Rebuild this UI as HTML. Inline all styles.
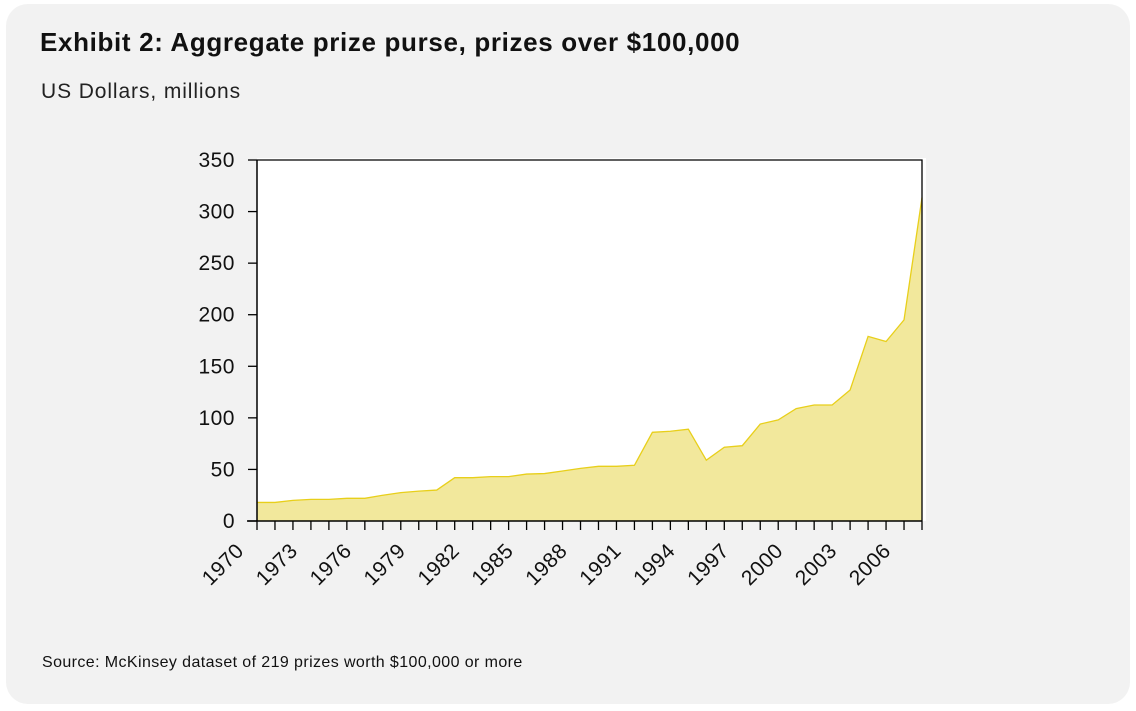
<!DOCTYPE html>
<html><head><meta charset="utf-8"><style>
body{margin:0;background:#fff;font-family:"Liberation Sans",sans-serif;}
#card{position:absolute;left:6px;top:4px;width:1124px;height:700px;background:#f2f2f2;border-radius:22px;}
#title{position:absolute;left:40px;top:27px;font-size:26px;font-weight:bold;color:#111;margin:0;letter-spacing:0.65px;white-space:nowrap;}
#sub{position:absolute;left:41px;top:80px;font-size:21px;color:#222;letter-spacing:0.9px;}
#src{position:absolute;left:42px;top:654px;font-size:16px;color:#111;letter-spacing:0.4px;}
svg{position:absolute;left:0;top:0;}
</style></head><body>
<div id="card"></div>
<h1 id="title">Exhibit 2: Aggregate prize purse, prizes over $100,000</h1>
<div id="sub">US Dollars, millions</div>
<div id="src">Source: McKinsey dataset of 219 prizes worth $100,000 or more</div>
<svg id="chart" width="1136" height="711"></svg>
<script>
const years=[1970,1971,1972,1973,1974,1975,1976,1977,1978,1979,1980,1981,1982,1983,1984,1985,1986,1987,1988,1989,1990,1991,1992,1993,1994,1995,1996,1997,1998,1999,2000,2001,2002,2003,2004,2005,2006,2007];
const values=[18,18,20,21,21,22,22,25,27.5,29,30,42,42,43,43,45.5,46,48.5,51,53,53,54,86,87,89,59,71.5,73,94,98,109,112.5,112.5,127,179,174,195,313.5];
const yTicks=[0,50,100,150,200,250,300,350];
const xLabelYears=[1970,1973,1976,1979,1982,1985,1988,1991,1994,1997,2000,2003,2006];
const svg=document.getElementById('chart');const NS='http://www.w3.org/2000/svg';
const X0=257,X1=922,Y0=521,Y1=160;
const x=yr=>X0+(yr-years[0])/(years[years.length-1]-years[0])*(X1-X0);
const y=v=>Y0-v/350*(Y0-Y1);
function mk(t,a){const e=document.createElementNS(NS,t);for(const k in a)e.setAttribute(k,a[k]);svg.appendChild(e);return e;}
let bg=mk('rect',{x:X0,y:Y1-2,width:X1-X0+4,height:Y0-Y1+2,fill:'#fff'});


let pts=years.map((yr,i)=>x(yr)+','+y(values[i]));
let area=mk('polygon',{points:X0+','+Y0+' '+pts.join(' ')+' '+X1+','+Y0,fill:'#f2e89c'});


let line=mk('polyline',{points:pts.join(' '),fill:'none',stroke:'#e8cf1a','stroke-width':1.3});


let fr=mk('path',{d:`M${X0},${Y1}H${X1}V${Y0}`,fill:'none',stroke:'#000','stroke-width':1.3});


let ya=mk('line',{x1:X0,y1:Y1,x2:X0,y2:Y0,stroke:'#000','stroke-width':1.5});


let xa=mk('line',{x1:X0-10,y1:Y0,x2:X1,y2:Y0,stroke:'#000','stroke-width':1.5});


yTicks.forEach(v=>{
 mk('line',{x1:X0-9,y1:y(v),x2:X0,y2:y(v),stroke:'#000','stroke-width':1.3});
 let t=mk('text',{x:X0-22,y:y(v)+7,'text-anchor':'end','font-size':21,fill:'#111','font-family':'Liberation Sans, sans-serif','letter-spacing':0.5});
 t.textContent=v;
 
 
});
years.forEach(yr=>mk('line',{x1:x(yr),y1:Y0,x2:x(yr),y2:Y0+9,stroke:'#000','stroke-width':1.3}));
xLabelYears.forEach(yr=>{
 const px=x(yr)-12,py=Y0+31;
 let t=mk('text',{x:px,y:py,'text-anchor':'end','font-size':21,fill:'#111','font-family':'Liberation Sans, sans-serif','letter-spacing':0.5,transform:`rotate(-45 ${px} ${py})`});
 t.textContent=yr;
 
 
});
</script>
</body></html>
